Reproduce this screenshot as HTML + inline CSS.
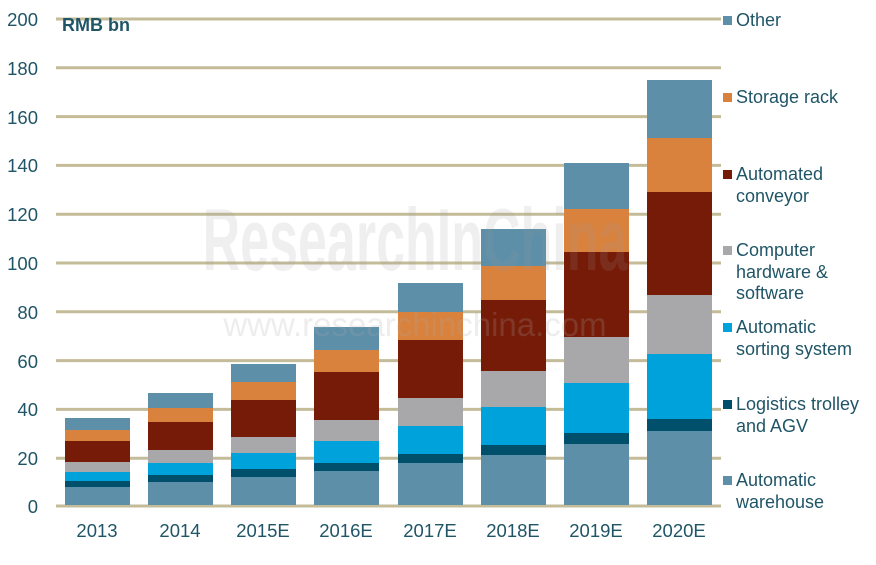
<!DOCTYPE html>
<html><head><meta charset="utf-8"><style>
html,body{margin:0;padding:0;background:#fff;}
svg text{font-family:"Liberation Sans",Arial,sans-serif;fill:#1f5566;}
.a{fill:#5e8fa8}.b{fill:#d9823e}.c{fill:#761b08}.d{fill:#a8a8ab}.e{fill:#00a2db}.f{fill:#00506c}
</style></head><body>
<svg width="876" height="560" xmlns="http://www.w3.org/2000/svg">
<g stroke="#c4bc98" stroke-width="3">
<line x1="56" x2="721" y1="19" y2="19"/>
<line x1="56" x2="721" y1="67.8" y2="67.8"/>
<line x1="56" x2="721" y1="116.6" y2="116.6"/>
<line x1="56" x2="721" y1="165.4" y2="165.4"/>
<line x1="56" x2="721" y1="214.2" y2="214.2"/>
<line x1="56" x2="721" y1="263" y2="263"/>
<line x1="56" x2="721" y1="311.8" y2="311.8"/>
<line x1="56" x2="721" y1="360.6" y2="360.6"/>
<line x1="56" x2="721" y1="409.4" y2="409.4"/>
<line x1="56" x2="721" y1="458.2" y2="458.2"/>
<line x1="56" x2="721" y1="506" y2="506"/>
</g>
<g font-size="18.5" text-anchor="end">
<text x="38" y="26">200</text><text x="38" y="75">180</text><text x="38" y="124">160</text>
<text x="38" y="172">140</text><text x="38" y="221">120</text><text x="38" y="270">100</text>
<text x="38" y="319">80</text><text x="38" y="368">60</text><text x="38" y="416">40</text>
<text x="38" y="465">20</text><text x="38" y="513">0</text>
</g>
<text x="62" y="31" font-size="18" font-weight="bold">RMB bn</text>

<g transform="translate(65,0)">
<rect class="a" y="418" width="65" height="12"/><rect class="b" y="430" width="65" height="11"/><rect class="c" y="441" width="65" height="21"/><rect class="d" y="462" width="65" height="10"/><rect class="e" y="472" width="65" height="9"/><rect class="f" y="481" width="65" height="6"/><rect class="a" y="487" width="65" height="18"/></g>
<g transform="translate(148,0)">
<rect class="a" y="393" width="65" height="15"/><rect class="b" y="408" width="65" height="14"/><rect class="c" y="422" width="65" height="28"/><rect class="d" y="450" width="65" height="13"/><rect class="e" y="463" width="65" height="12"/><rect class="f" y="475" width="65" height="7"/><rect class="a" y="482" width="65" height="23"/></g>
<g transform="translate(231,0)">
<rect class="a" y="364" width="65" height="18"/><rect class="b" y="382" width="65" height="18"/><rect class="c" y="400" width="65" height="37"/><rect class="d" y="437" width="65" height="16"/><rect class="e" y="453" width="65" height="16"/><rect class="f" y="469" width="65" height="8"/><rect class="a" y="477" width="65" height="28"/></g>
<g transform="translate(314,0)">
<rect class="a" y="327" width="65" height="23"/><rect class="b" y="350" width="65" height="22"/><rect class="c" y="372" width="65" height="48"/><rect class="d" y="420" width="65" height="21"/><rect class="e" y="441" width="65" height="22"/><rect class="f" y="463" width="65" height="8"/><rect class="a" y="471" width="65" height="34"/></g>
<g transform="translate(398,0)">
<rect class="a" y="283" width="65" height="29"/><rect class="b" y="312" width="65" height="28"/><rect class="c" y="340" width="65" height="58"/><rect class="d" y="398" width="65" height="28"/><rect class="e" y="426" width="65" height="28"/><rect class="f" y="454" width="65" height="9"/><rect class="a" y="463" width="65" height="42"/></g>
<g transform="translate(481,0)">
<rect class="a" y="229" width="65" height="37"/><rect class="b" y="266" width="65" height="34"/><rect class="c" y="300" width="65" height="71"/><rect class="d" y="371" width="65" height="36"/><rect class="e" y="407" width="65" height="38"/><rect class="f" y="445" width="65" height="10"/><rect class="a" y="455" width="65" height="50"/></g>
<g transform="translate(564,0)">
<rect class="a" y="163" width="65" height="46"/><rect class="b" y="209" width="65" height="43"/><rect class="c" y="252" width="65" height="85"/><rect class="d" y="337" width="65" height="46"/><rect class="e" y="383" width="65" height="50"/><rect class="f" y="433" width="65" height="11"/><rect class="a" y="444" width="65" height="61"/></g>
<g transform="translate(647,0)">
<rect class="a" y="80" width="65" height="58"/><rect class="b" y="138" width="65" height="54"/><rect class="c" y="192" width="65" height="103"/><rect class="d" y="295" width="65" height="59"/><rect class="e" y="354" width="65" height="65"/><rect class="f" y="419" width="65" height="12"/><rect class="a" y="431" width="65" height="74"/></g>

<g font-size="18.5" text-anchor="middle">
<text x="97" y="537">2013</text><text x="180" y="537">2014</text><text x="263" y="537">2015E</text>
<text x="346" y="537">2016E</text><text x="430" y="537">2017E</text><text x="513" y="537">2018E</text>
<text x="596" y="537">2019E</text><text x="679" y="537">2020E</text>
</g>
<g font-size="18">
<rect x="723" y="16" width="9" height="9" fill="#5e8fa8"/><text x="736" y="26">Other</text>
<rect x="723" y="93" width="9" height="9" fill="#d9823e"/><text x="736" y="103">Storage rack</text>
<rect x="723" y="170" width="9" height="9" fill="#761b08"/><text x="736" y="180">Automated</text><text x="736" y="202">conveyor</text>
<rect x="723" y="246" width="9" height="9" fill="#a8a8ab"/><text x="736" y="256">Computer</text><text x="736" y="278">hardware &amp;</text><text x="736" y="299">software</text>
<rect x="723" y="323" width="9" height="9" fill="#00a2db"/><text x="736" y="333">Automatic</text><text x="736" y="355">sorting system</text>
<rect x="723" y="400" width="9" height="9" fill="#00506c"/><text x="736" y="410">Logistics trolley</text><text x="736" y="432">and AGV</text>
<rect x="723" y="476" width="9" height="9" fill="#5e8fa8"/><text x="736" y="486">Automatic</text><text x="736" y="508">warehouse</text>
</g>
<text transform="translate(415,270) scale(1,1.7)" font-size="52" font-weight="bold" text-anchor="middle" style="fill:#999999;opacity:0.15">ResearchInChina</text>
<text x="415" y="336" font-size="33" text-anchor="middle" style="fill:#aaaaaa;opacity:0.2">www.researchinchina.com</text>
</svg>
</body></html>
